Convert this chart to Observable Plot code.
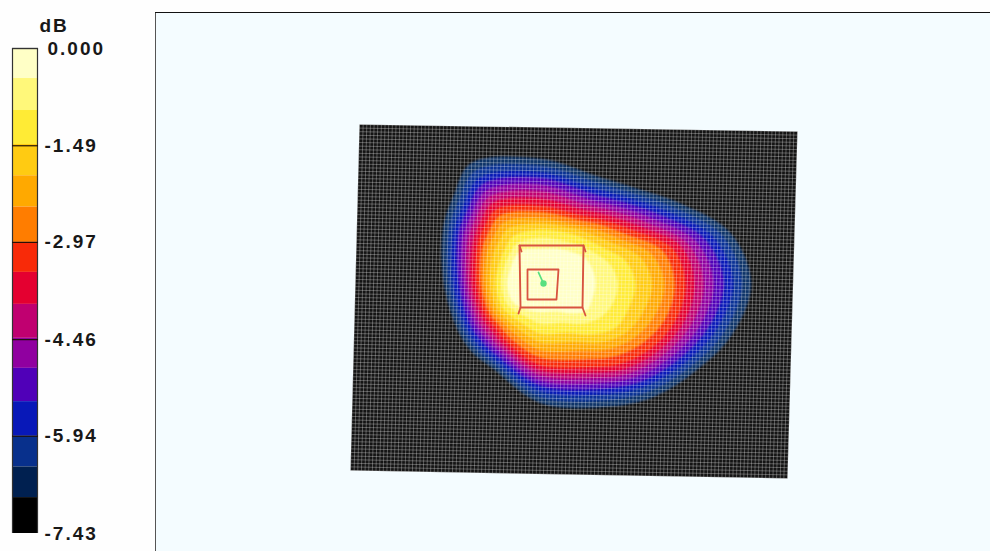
<!DOCTYPE html>
<html><head><meta charset="utf-8">
<script src="https://cdn.jsdelivr.net/npm/d3@7"></script>
<script src="https://cdn.jsdelivr.net/npm/@observablehq/plot@0.6"></script>
<style>
html,body{margin:0;padding:0;background:#fefefe;width:990px;height:551px;overflow:hidden}
#bar,#map{position:absolute;top:0}
#bar{left:0}#map{left:155px}
svg{display:block}
</style></head><body>
<div id="bar"></div><div id="map"></div>
<script>
// Colour bar: one colour per band, band edges in dB
const bandColors = ["#ffffc6","#fff87a","#ffeb35","#ffcb12","#ffa900","#ff7d00","#f82a08","#e40030","#c00070","#9000a0","#5000b8","#0818b8","#08308c","#002050","#000000"];
const bandEdges = [0,-0.46,-0.95,-1.47,-1.95,-2.43,-2.97,-3.43,-3.92,-4.44,-4.90,-5.41,-5.94,-6.41,-6.88,-7.43];
const tickValues = [0,-1.49,-2.97,-4.46,-5.94,-7.43];
const tickLabels = ["0.000","-1.49","-2.97","-4.46","-5.94","-7.43"];
const unitLabel = "dB";

// The two outermost rings look slightly lighter on the map than on the bar
const mapOuterColors = ["#0e3468","#0a3296"];

// Map: quad outline of the measured surface, in picture pixels
const surfaceX = [359,797,787,350];
const surfaceY = [124,131,478,470];

// Contours: centre and radius (picture px x3) along rays, outermost band first
const contourCentre = [540,283.3];
const rayAngles = [0,15,30,45,60,90,120,135,150,180,210,225,240,270,300,315,330,345];
const rayRadii = [
 [632,605,578,550,520,490,462,435,403,372,335,285,232,165],
 [594,569,544,519,494,469,445,420,390,357,320,275,225,162],
 [531,510,489,468,447,426,406,385,355,325,295,262,205,160],
 [480,458,437,418,398,379,360,340,310,280,250,215,170,125],
 [425,403,383,364,345,327,308,290,262,232,202,170,135,95],
 [358,340,322,306,291,275,260,245,222,200,176,150,120,85],
 [291,278,266,253,240,227,215,202,186,168,150,130,108,90],
 [290,276,262,247,233,219,204,190,176,162,148,132,113,95],
 [285,271,258,244,230,217,203,190,177,164,150,135,118,100],
 [290,275,262,245,232,220,208,193,180,168,153,135,118,100],
 [337,319,302,286,270,253,236,220,203,187,166,140,122,102],
 [370,349,329,311,293,276,258,240,220,200,178,150,130,110],
 [418,392,367,346,324,303,282,260,238,215,192,165,140,115],
 [375,354,335,318,298,278,256,234,216,198,182,163,138,105],
 [367,349,330,312,293,275,257,238,222,206,192,175,148,120],
 [405,386,367,348,328,309,290,270,252,232,212,190,163,135],
 [483,460,437,414,391,368,345,322,297,272,247,217,187,155],
 [590,564,538,512,485,459,436,410,380,345,310,265,218,162]
];

// Probe frames drawn on top
const outerFrame = [[519,245],[583,245],[582,307],[520,307]];
const innerFrame = [[527,269],[558,269],[556,299],[527,299]];
const frameTicks = [[[520,307],[518,313]],[[582,307],[585,315]],[[519,245],[521,251]],[[583,245],[585,251]]];
const probeLine = [[538,272],[543,283]];

const FONT = "Liberation Sans";

// ---- colour bar ----
const bands = bandColors.map((c,i)=>({c,y1:bandEdges[i],y2:bandEdges[i+1]}));
const ticks = tickValues.map((v,i)=>({v,label:tickLabels[i]}));
document.getElementById("bar").append(Plot.plot({
  width:155,height:551,margin:0,
  style:{background:"transparent",letterSpacing:"2px"},
  x:{domain:[0,155],range:[0,155],axis:null},
  y:{domain:[0,-7.43],range:[48,533],axis:null},
  marks:[
    Plot.rectY(bands,{x1:12,x2:37,y1:"y1",y2:"y2",fill:"c"}),
    Plot.ruleX([12,37],{y1:0,y2:-7.43,stroke:"#333",strokeWidth:1.2}),
    Plot.ruleY(tickValues.slice(1,5),{x1:12,x2:38,stroke:"#201008",strokeWidth:1.2}),
    Plot.ruleY([0],{x1:12,x2:38,stroke:"#333",strokeWidth:1.4}),
    Plot.text(ticks,{x:d=>d.v===0?47:44,y:"v",text:"label",textAnchor:"start",fontFamily:FONT,fontWeight:"bold",fontSize:19,fill:"#181818"}),
    Plot.text([unitLabel],{x:39,y:0,dy:-23,text:d=>d,textAnchor:"start",fontFamily:FONT,fontWeight:"bold",fontSize:19,fill:"#181818"})
  ]
}));

// ---- map ----
const quad = surfaceX.map((x,i)=>[x,surfaceY[i]]);
const bilin = (u,v)=>{
  const top=[quad[0][0]+(quad[1][0]-quad[0][0])*u,quad[0][1]+(quad[1][1]-quad[0][1])*u];
  const bot=[quad[3][0]+(quad[2][0]-quad[3][0])*u,quad[3][1]+(quad[2][1]-quad[3][1])*u];
  return [top[0]+(bot[0]-top[0])*v,top[1]+(bot[1]-top[1])*v];
};
const NX=120, NY=96, gridLines=[];
for(let i=0;i<=NX;i++){const a=bilin(i/NX,0),b=bilin(i/NX,1);gridLines.push({x1:a[0],y1:a[1],x2:b[0],y2:b[1]});}
for(let j=0;j<=NY;j++){const a=bilin(0,j/NY),b=bilin(1,j/NY);gridLines.push({x1:a[0],y1:a[1],x2:b[0],y2:b[1]});}

const contours = d3.range(14).map(k=>rayAngles.map((a,i)=>{
  const t=a*Math.PI/180, r=rayRadii[i][k]/3;
  return [contourCentre[0]+r*Math.cos(t),contourCentre[1]+r*Math.sin(t)];
}));
const closed = {x:d=>d[0],y:d=>d[1]};
document.getElementById("map").append(Plot.plot({
  width:835,height:551,margin:0,
  style:{background:"transparent"},
  x:{domain:[155,990],range:[0,835],axis:null},
  y:{domain:[0,551],range:[0,551],axis:null},
  marks:[
    Plot.rect([0],{x1:155,x2:990,y1:12,y2:551,fill:"#f4fcff"}),
    Plot.ruleX([155],{y1:12,y2:551,stroke:"#555",strokeWidth:1}),
    Plot.ruleY([12],{x1:155,x2:990,stroke:"#111",strokeWidth:1}),
    Plot.line(quad,{...closed,curve:"linear-closed",fill:"#141414",stroke:"none"}),
    ...contours.map((c,k)=>Plot.line(c,{...closed,curve:"catmull-rom-closed",fill:k<2?mapOuterColors[k]:bandColors[13-k],stroke:"none",imageFilter:"blur(1px)"})),
    Plot.link(gridLines,{x1:"x1",y1:"y1",x2:"x2",y2:"y2",stroke:"#fff",strokeOpacity:0.42,strokeWidth:0.7}),
    Plot.line(outerFrame,{...closed,curve:"linear-closed",stroke:"#d85440",strokeWidth:1.9}),
    Plot.line(innerFrame,{...closed,curve:"linear-closed",stroke:"#d85440",strokeWidth:1.8}),
    ...frameTicks.map(t=>Plot.line(t,{...closed,stroke:"#d85440",strokeWidth:1.8})),
    Plot.line(probeLine,{...closed,stroke:"#58e080",strokeWidth:1.8,imageFilter:"blur(0.4px)"}),
    Plot.dot([probeLine[1]],{...closed,r:3.2,fill:"#58e080",imageFilter:"blur(0.4px)"})
  ]
}));
</script>
</body></html>
